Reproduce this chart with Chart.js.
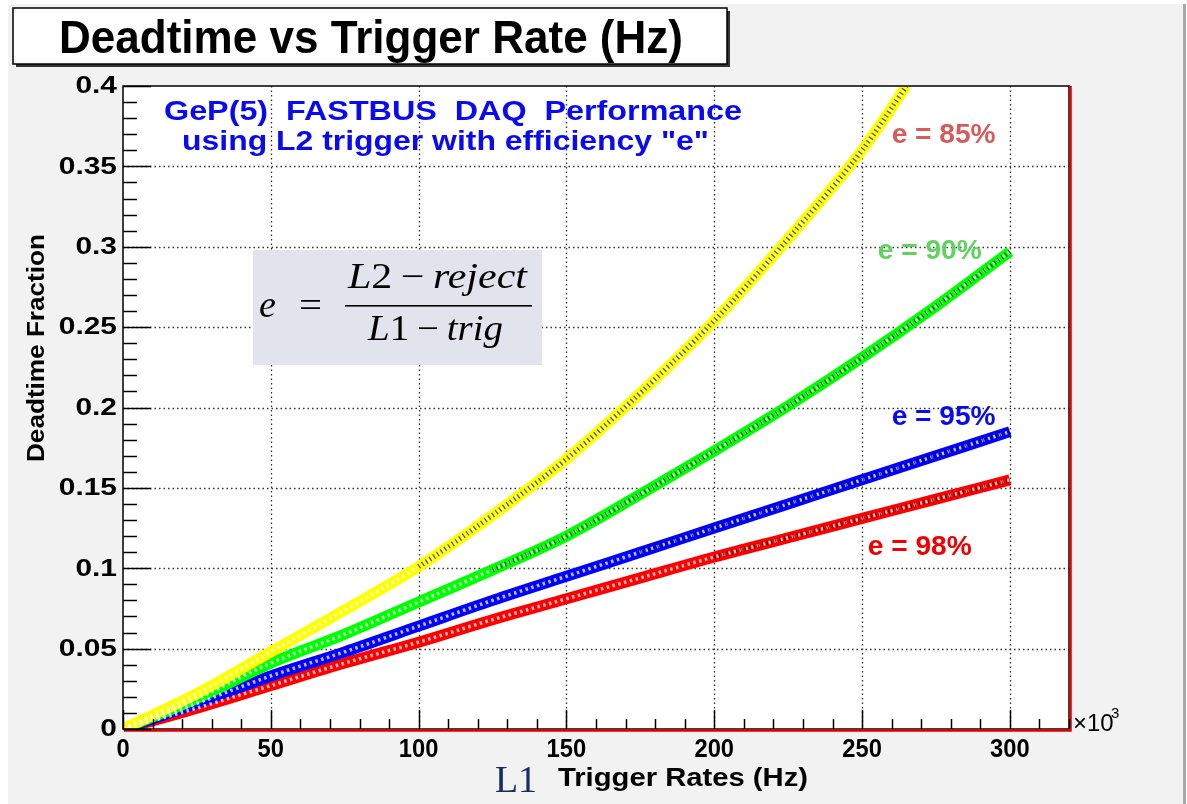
<!DOCTYPE html>
<html>
<head>
<meta charset="utf-8">
<script src="https://cdn.jsdelivr.net/npm/chart.js@4.4.0/dist/chart.umd.min.js"></script>
<style>
html, body { margin: 0; padding: 0; background: #fff; }
#wrap { width: 1187px; height: 804px; }
</style>
</head>
<body>
<div id="wrap"><canvas id="deadtime-chart" width="1187" height="804"></canvas></div>
<script>
// L1 trigger rate (x10^3 Hz)
let rate = [0, 25, 50, 75, 100, 125, 150, 175, 200, 225, 250, 275, 300];
let rate_85 = [0, 25, 50, 75, 100, 125, 150, 175, 200, 225, 250, 265];

// deadtime fraction for each L2 efficiency
let dead_85 = [0, 0.022, 0.048, 0.074, 0.101, 0.133, 0.168, 0.209, 0.254, 0.305, 0.360, 0.400];
let dead_90 = [0, 0.019, 0.041, 0.059, 0.079, 0.099, 0.120, 0.146, 0.173, 0.201, 0.231, 0.263, 0.297];
let dead_95 = [0, 0.016, 0.033, 0.048, 0.064, 0.080, 0.095, 0.110, 0.125, 0.140, 0.155, 0.170, 0.185];
let dead_98 = [0, 0.013, 0.027, 0.041, 0.054, 0.068, 0.081, 0.094, 0.107, 0.119, 0.131, 0.143, 0.155];

let yTickLabels = ['0', '0.05', '0.1', '0.15', '0.2', '0.25', '0.3', '0.35', '0.4'];
let xTickLabels = ['0', '50', '100', '150', '200', '250', '300'];
let curveLabels = ['e = 85%', 'e = 90%', 'e = 95%', 'e = 98%'];

const SANS = '"Liberation Sans", Arial, sans-serif';
const SERIF = '"Liberation Serif", "Times New Roman", serif';

function toPoints(xs, ys) {
    return xs.map((x, i) => ({ x: x, y: ys[i] }));
}

// one efficiency curve = thick coloured band + hollow rings + black markers on the upper part
function band(xs, ys, color, blackFrom, order) {
    let pts = toPoints(xs, ys);
    let common = { data: pts, showLine: true, pointRadius: 0, cubicInterpolationMode: 'monotone' };
    return [
        Object.assign({}, common, { borderColor: color, borderWidth: 11, order: order }),
        Object.assign({}, common, { borderColor: 'rgba(255,255,255,0.75)', borderWidth: 3.5, borderDash: [2.5, 3.5], order: 1 }),
        Object.assign({}, common, {
            borderColor: 'rgba(0,0,0,0)', borderWidth: 5, borderDash: [1.3, 3.2], order: 0,
            segment: { borderColor: c => c.p0.parsed.x >= blackFrom ? 'rgba(0,0,0,0.65)' : 'rgba(0,0,0,0)' }
        })
    ];
}

let datasets = [].concat(
    band(rate_85, dead_85, '#ffff00', 100, 2),
    band(rate, dead_90, '#00ff00', 125, 3),
    band(rate, dead_95, '#0000ff', 175, 4),
    band(rate, dead_98, '#ff0000', 200, 5)
);

function fitText(ctx, text, x, y, font, width, color, align) {
    ctx.save();
    ctx.font = font;
    ctx.fillStyle = color;
    ctx.textAlign = align || 'left';
    ctx.textBaseline = 'alphabetic';
    let w = ctx.measureText(text).width;
    ctx.translate(x, y);
    ctx.scale(width / w, 1);
    ctx.fillText(text, 0, 0);
    ctx.restore();
}

function stretchText(ctx, text, x, y, font, sx, color, align, baseline) {
    ctx.save();
    ctx.font = font;
    ctx.fillStyle = color;
    ctx.textAlign = align || 'left';
    ctx.textBaseline = baseline || 'alphabetic';
    ctx.translate(x, y);
    ctx.scale(sx, 1);
    ctx.fillText(text, 0, 0);
    ctx.restore();
}

function drawRuns(ctx, runs, x, y, width) {
    let total = 0;
    runs.forEach(r => { ctx.font = r[1]; total += ctx.measureText(r[0]).width; });
    let sx = width / total;
    ctx.save();
    ctx.fillStyle = '#000';
    ctx.textBaseline = 'alphabetic';
    ctx.textAlign = 'left';
    ctx.translate(x, y);
    ctx.scale(sx, 1);
    let cx = 0;
    runs.forEach(r => {
        ctx.font = r[1];
        ctx.fillText(r[0], cx, 0);
        cx += ctx.measureText(r[0]).width;
    });
    ctx.restore();
}

const rootStyle = {
    id: 'rootStyle',
    beforeDraw(chart) {
        let ctx = chart.ctx, a = chart.chartArea;
        ctx.save();
        ctx.fillStyle = '#ffffff';
        ctx.fillRect(0, 0, chart.width, chart.height);
        ctx.fillStyle = '#f2f2f2';
        ctx.fillRect(8, 4, 1175, 800);
        ctx.fillStyle = '#a8a8a8';
        ctx.fillRect(1183, 4, 3, 800);
        ctx.fillStyle = '#ffffff';
        ctx.fillRect(a.left, a.top, a.right - a.left, a.bottom - a.top);
        ctx.restore();
    },
    beforeDatasetsDraw(chart) {
        let ctx = chart.ctx, a = chart.chartArea;
        let xs = chart.scales.x, ys = chart.scales.y;
        ctx.save();
        ctx.strokeStyle = '#333';
        ctx.lineWidth = 1.3;
        ctx.setLineDash([1.5, 3]);
        xTickLabels.forEach(t => {
            let v = parseFloat(t);
            if (v === 0) return;
            let px = Math.round(xs.getPixelForValue(v)) + 0.5;
            ctx.beginPath(); ctx.moveTo(px, a.top); ctx.lineTo(px, a.bottom); ctx.stroke();
        });
        yTickLabels.forEach(t => {
            let v = parseFloat(t);
            if (v === 0 || v === 0.4) return;
            let py = Math.round(ys.getPixelForValue(v)) + 0.5;
            ctx.beginPath(); ctx.moveTo(a.left, py); ctx.lineTo(a.right, py); ctx.stroke();
        });
        ctx.setLineDash([]);

        // formula box
        ctx.fillStyle = '#e1e4ec';
        ctx.fillRect(253, 250, 289, 115);
        drawRuns(ctx, [['e', 'italic 38px ' + SERIF]], 259, 317, 17);
        drawRuns(ctx, [['=', '36px ' + SERIF]], 299, 317, 23);
        ctx.fillStyle = '#000';
        ctx.fillRect(345, 305, 187, 1.6);
        drawRuns(ctx, [['L', 'italic 35px ' + SERIF], ['2', '35px ' + SERIF], ['\u2009\u2212\u2009', '35px ' + SERIF], ['reject', 'italic 35px ' + SERIF]], 348, 288, 179);
        drawRuns(ctx, [['L', 'italic 35px ' + SERIF], ['1', '35px ' + SERIF], ['\u2009\u2212\u2009', '35px ' + SERIF], ['trig', 'italic 35px ' + SERIF]], 368, 340, 135);
        ctx.restore();
    },
    afterDatasetsDraw(chart) {
        let ctx = chart.ctx, a = chart.chartArea;
        let xs = chart.scales.x, ys = chart.scales.y;
        ctx.save();

        // frame
        ctx.strokeStyle = '#000';
        ctx.lineWidth = 1.5;
        ctx.strokeRect(a.left, a.top, a.right - a.left, a.bottom - a.top);
        ctx.strokeStyle = '#e00000';
        ctx.lineWidth = 2.5;
        ctx.beginPath();
        ctx.moveTo(a.left + 1, a.bottom + 1.5); ctx.lineTo(a.right + 1.5, a.bottom + 1.5); ctx.lineTo(a.right + 1.5, a.top);
        ctx.stroke();

        // ticks inside the frame
        ctx.strokeStyle = '#000';
        ctx.lineWidth = 1.5;
        ys.ticks.forEach(t => {
            let major = Math.round(t.value * 100) % 5 === 0;
            let py = Math.round(ys.getPixelForValue(t.value)) + 0.5;
            ctx.beginPath(); ctx.moveTo(a.left, py); ctx.lineTo(a.left + (major ? 28 : 14), py); ctx.stroke();
        });
        xs.ticks.forEach(t => {
            let major = Math.round(t.value) % 50 === 0;
            let px = Math.round(xs.getPixelForValue(t.value)) + 0.5;
            ctx.beginPath(); ctx.moveTo(px, a.bottom); ctx.lineTo(px, a.bottom - (major ? 19 : 10)); ctx.stroke();
        });

        // tick labels
        yTickLabels.forEach(t => {
            let py = ys.getPixelForValue(parseFloat(t));
            stretchText(ctx, t, a.left - 6, py + 1, 'bold 23px ' + SANS, 1.3, '#000', 'right', 'middle');
        });
        xTickLabels.forEach(t => {
            let px = xs.getPixelForValue(parseFloat(t));
            stretchText(ctx, t, px, a.bottom + 28, 'bold 25px ' + SANS, 0.95, '#000', 'center');
        });
        stretchText(ctx, '\u00d710', a.right + 4, a.bottom + 2, '24px ' + SANS, 1, '#000', 'left');
        stretchText(ctx, '3', a.right + 42, a.bottom - 11, '15px ' + SANS, 1, '#000', 'left');

        // axis titles
        ctx.save();
        ctx.translate(44, 348);
        ctx.rotate(-Math.PI / 2);
        fitText(ctx, 'Deadtime Fraction', 0, 0, 'bold 23px ' + SANS, 228, '#000', 'center');
        ctx.restore();
        fitText(ctx, 'L1', 495, 792, '38px ' + SERIF, 42, '#172c64', 'left');
        fitText(ctx, 'Trigger Rates (Hz)', 558, 786, 'bold 26px ' + SANS, 250, '#000', 'left');

        // annotation text
        fitText(ctx, 'GeP(5)  FASTBUS  DAQ  Performance', 164, 120, 'bold 27px ' + SANS, 578, '#0a0af0', 'left');
        fitText(ctx, 'using L2 trigger with efficiency "e"', 182, 150, 'bold 27px ' + SANS, 527, '#0a0af0', 'left');

        // curve labels
        let labelColors = ['#d65c5c', '#5fd35f', '#0a0aee', '#f00000'];
        let labelX = [260, 255.3, 260, 251.9];
        let labelY = [0.3645, 0.2924, 0.1891, 0.1082];
        curveLabels.forEach((t, i) => {
            fitText(ctx, t, xs.getPixelForValue(labelX[i]), ys.getPixelForValue(labelY[i]), 'bold 27px ' + SANS, 104, labelColors[i], 'left');
        });

        // title box
        ctx.fillStyle = '#333';
        ctx.fillRect(727, 11, 3, 56);
        ctx.fillRect(16, 64, 714, 3);
        ctx.fillStyle = '#fff';
        ctx.fillRect(13, 8, 714, 56);
        ctx.strokeStyle = '#000';
        ctx.lineWidth = 1.5;
        ctx.strokeRect(13, 8, 714, 56);
        fitText(ctx, 'Deadtime vs Trigger Rate (Hz)', 59, 53, 'bold 46px ' + SANS, 624, '#000', 'left');
        ctx.restore();
    }
};

let chartCtx = document.getElementById('deadtime-chart').getContext('2d');
let deadtime = new Chart(chartCtx, {
    type: 'scatter',
    data: { datasets: datasets },
    options: {
        responsive: false,
        animation: false,
        layout: { padding: { top: 86, right: 118, left: 0, bottom: 0 } },
        plugins: {
            legend: { display: false },
            tooltip: { enabled: false },
            title: { display: false }
        },
        scales: {
            x: {
                type: 'linear', min: 0, max: 320,
                ticks: { display: false, stepSize: 10 },
                grid: { display: false },
                border: { display: false },
                afterFit: s => { s.height = 75; }
            },
            y: {
                type: 'linear', min: 0, max: 0.4,
                ticks: { display: false, stepSize: 0.01 },
                grid: { display: false },
                border: { display: false },
                afterFit: s => { s.width = 123; }
            }
        }
    },
    plugins: [rootStyle]
});
</script>
</body>
</html>
